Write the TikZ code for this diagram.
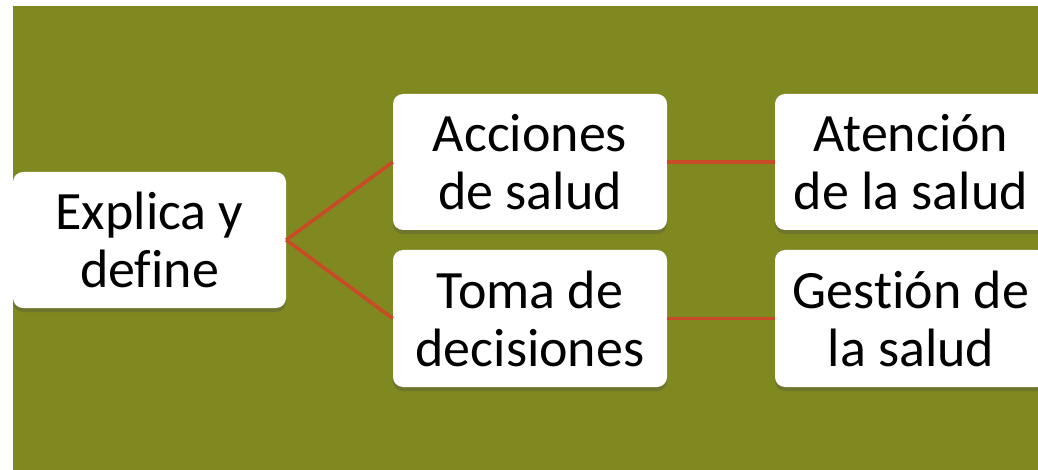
\documentclass[tikz,border=0pt]{standalone}
\usepackage{fontspec}
\setmainfont{Carlito}[Ligatures=NoCommon]
\usetikzlibrary{shadows}
\definecolor{olivebg}{RGB}{128,136,32}
\definecolor{linkred}{RGB}{200,74,38}
\begin{document}
\begin{tikzpicture}[x=1pt,y=-1pt,
  box/.style={draw=none,fill=white,rounded corners=10pt,inner sep=0pt,
    align=center,font=\fontsize{54}{58}\selectfont,
    drop shadow={shadow xshift=0pt,shadow yshift=-4pt,opacity=0.3,fill=black!70}},
  link/.style={draw=linkred,line width=3.6pt}]
\useasboundingbox (0,0) rectangle (1038,470);
\fill[white] (0,0) rectangle (1038,470);
\fill[olivebg] (13,6) rectangle (1038,470);
\node[box,minimum width=273pt,minimum height=136pt] (expl) at (149.5,240) {Explica y\\define};
\node[box,minimum width=274pt,minimum height=136pt] (acc) at (530,162) {Acciones\\de salud};
\node[box,minimum width=274pt,minimum height=137pt] (toma) at (530,318.5) {Toma de\\decisiones};
\node[box,minimum width=272pt,minimum height=136pt] (aten) at (911,162) {Atención\\de la salud};
\node[box,minimum width=272pt,minimum height=137pt] (gest) at (911,318.5) {Gestión de\\la salud};
\draw[link] (expl.east) -- (acc.west);
\draw[link] (expl.east) -- (toma.west);
\draw[link] (acc.east) -- (aten.west);
\draw[link] (toma.east) -- (gest.west);
\end{tikzpicture}
\end{document}
